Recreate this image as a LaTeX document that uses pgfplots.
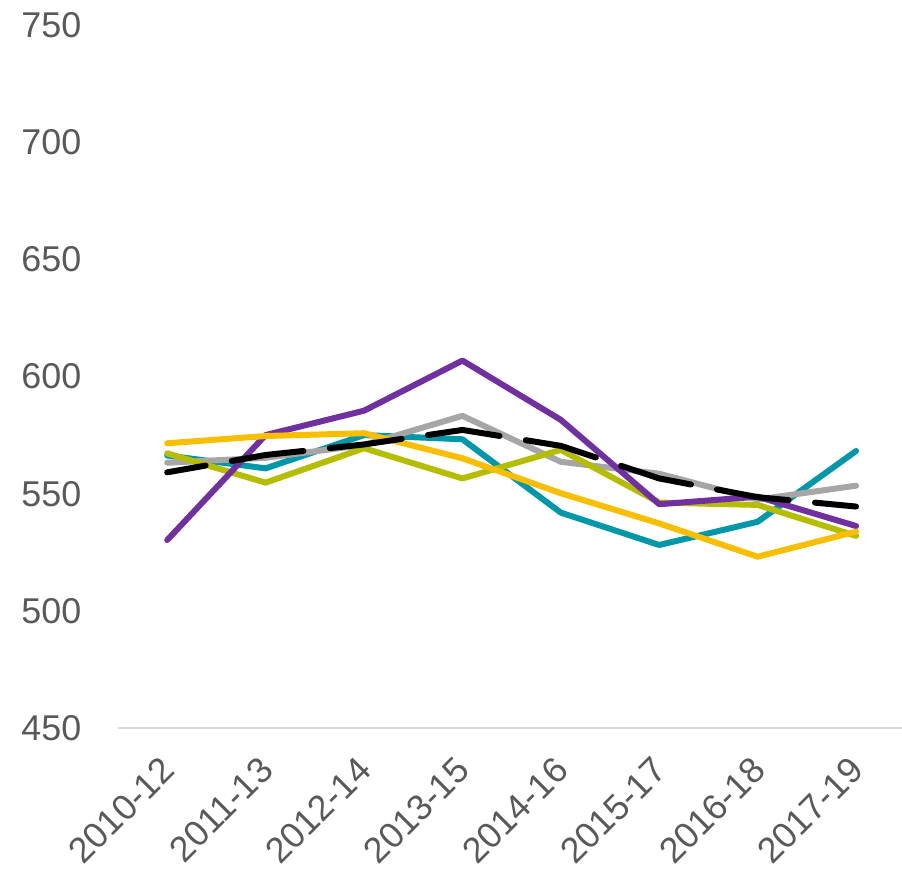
\documentclass[border=0pt]{standalone}
\usepackage{pgfplots}
\pgfplotsset{compat=1.18}
\usepackage{fontspec}
\setmainfont{Liberation Sans}
\definecolor{cteal}{RGB}{0,151,169}
\definecolor{cgray}{RGB}{166,166,166}
\definecolor{colive}{RGB}{181,189,0}
\definecolor{cpurple}{RGB}{112,48,160}
\definecolor{cyellow}{RGB}{248,190,0}
\definecolor{ctext}{RGB}{89,89,89}
\definecolor{caxis}{RGB}{217,217,217}
\begin{document}
\begin{tikzpicture}
\path[use as bounding box] (-118bp,-143bp) rectangle (784bp,728bp);
\begin{axis}[
  at={(0,0)}, anchor=south west,
  scale only axis, width=784bp, height=703bp,
  xmin=-0.5, xmax=7.467, ymin=450, ymax=750,
  ytick={450,500,550,600,650,700,750},
  xtick={0,1,2,3,4,5,6,7},
  xticklabels={2010-12,2011-13,2012-14,2013-15,2014-16,2015-17,2016-18,2017-19},
  axis x line*=bottom, axis y line*=left,
  y axis line style={draw=none},
  x axis line style={-, draw=caxis, line width=1.5bp},
  major tick length=0pt, tick style={draw=none},
  /pgf/number format/assume math mode=true,
  ticklabel style={font=\fontsize{36}{43}\selectfont, text=ctext},
  yticklabel style={anchor=east, inner sep=0pt, xshift=-36.5bp},
  xticklabel style={inner sep=0pt, anchor=east, xshift=1bp, yshift=-36bp, rotate=45},
  every axis plot post/.append style={line width=6bp, line join=round, line cap=round, mark=none},
]
% teal
\addplot[cteal] coordinates {(0,566.3) (1,560.8) (2,575) (3,573.2) (4,541.9) (5,528.1) (6,538) (7,568.2)};
% gray
\addplot[cgray] coordinates {(0,563.2) (1,565.3) (2,570.8) (3,583.2) (4,563.6) (5,558.5) (6,547.5) (7,553.4)};
% olive
\addplot[colive] coordinates {(0,567.2) (1,554.7) (2,569.4) (3,556.5) (4,568.7) (5,546.2) (6,545.2) (7,532)};
% purple
\addplot[cpurple] coordinates {(0,530.2) (1,575) (2,585.4) (3,606.8) (4,581.5) (5,545.5) (6,548.7) (7,536.2)};
% yellow
\addplot[cyellow] coordinates {(0,571.5) (1,574.6) (2,575.8) (3,565.1) (4,550.2) (5,537.3) (6,523.1) (7,533.8)};
% black dashed
\addplot[black, dash pattern=on 72.5bp off 26.5bp, dash phase=33.5bp] coordinates {(0,559.1) (1,566.5) (2,571) (3,577.2) (4,570.4) (5,556.5) (6,548.5) (7,544.5)};
\end{axis}
\end{tikzpicture}
\end{document}
